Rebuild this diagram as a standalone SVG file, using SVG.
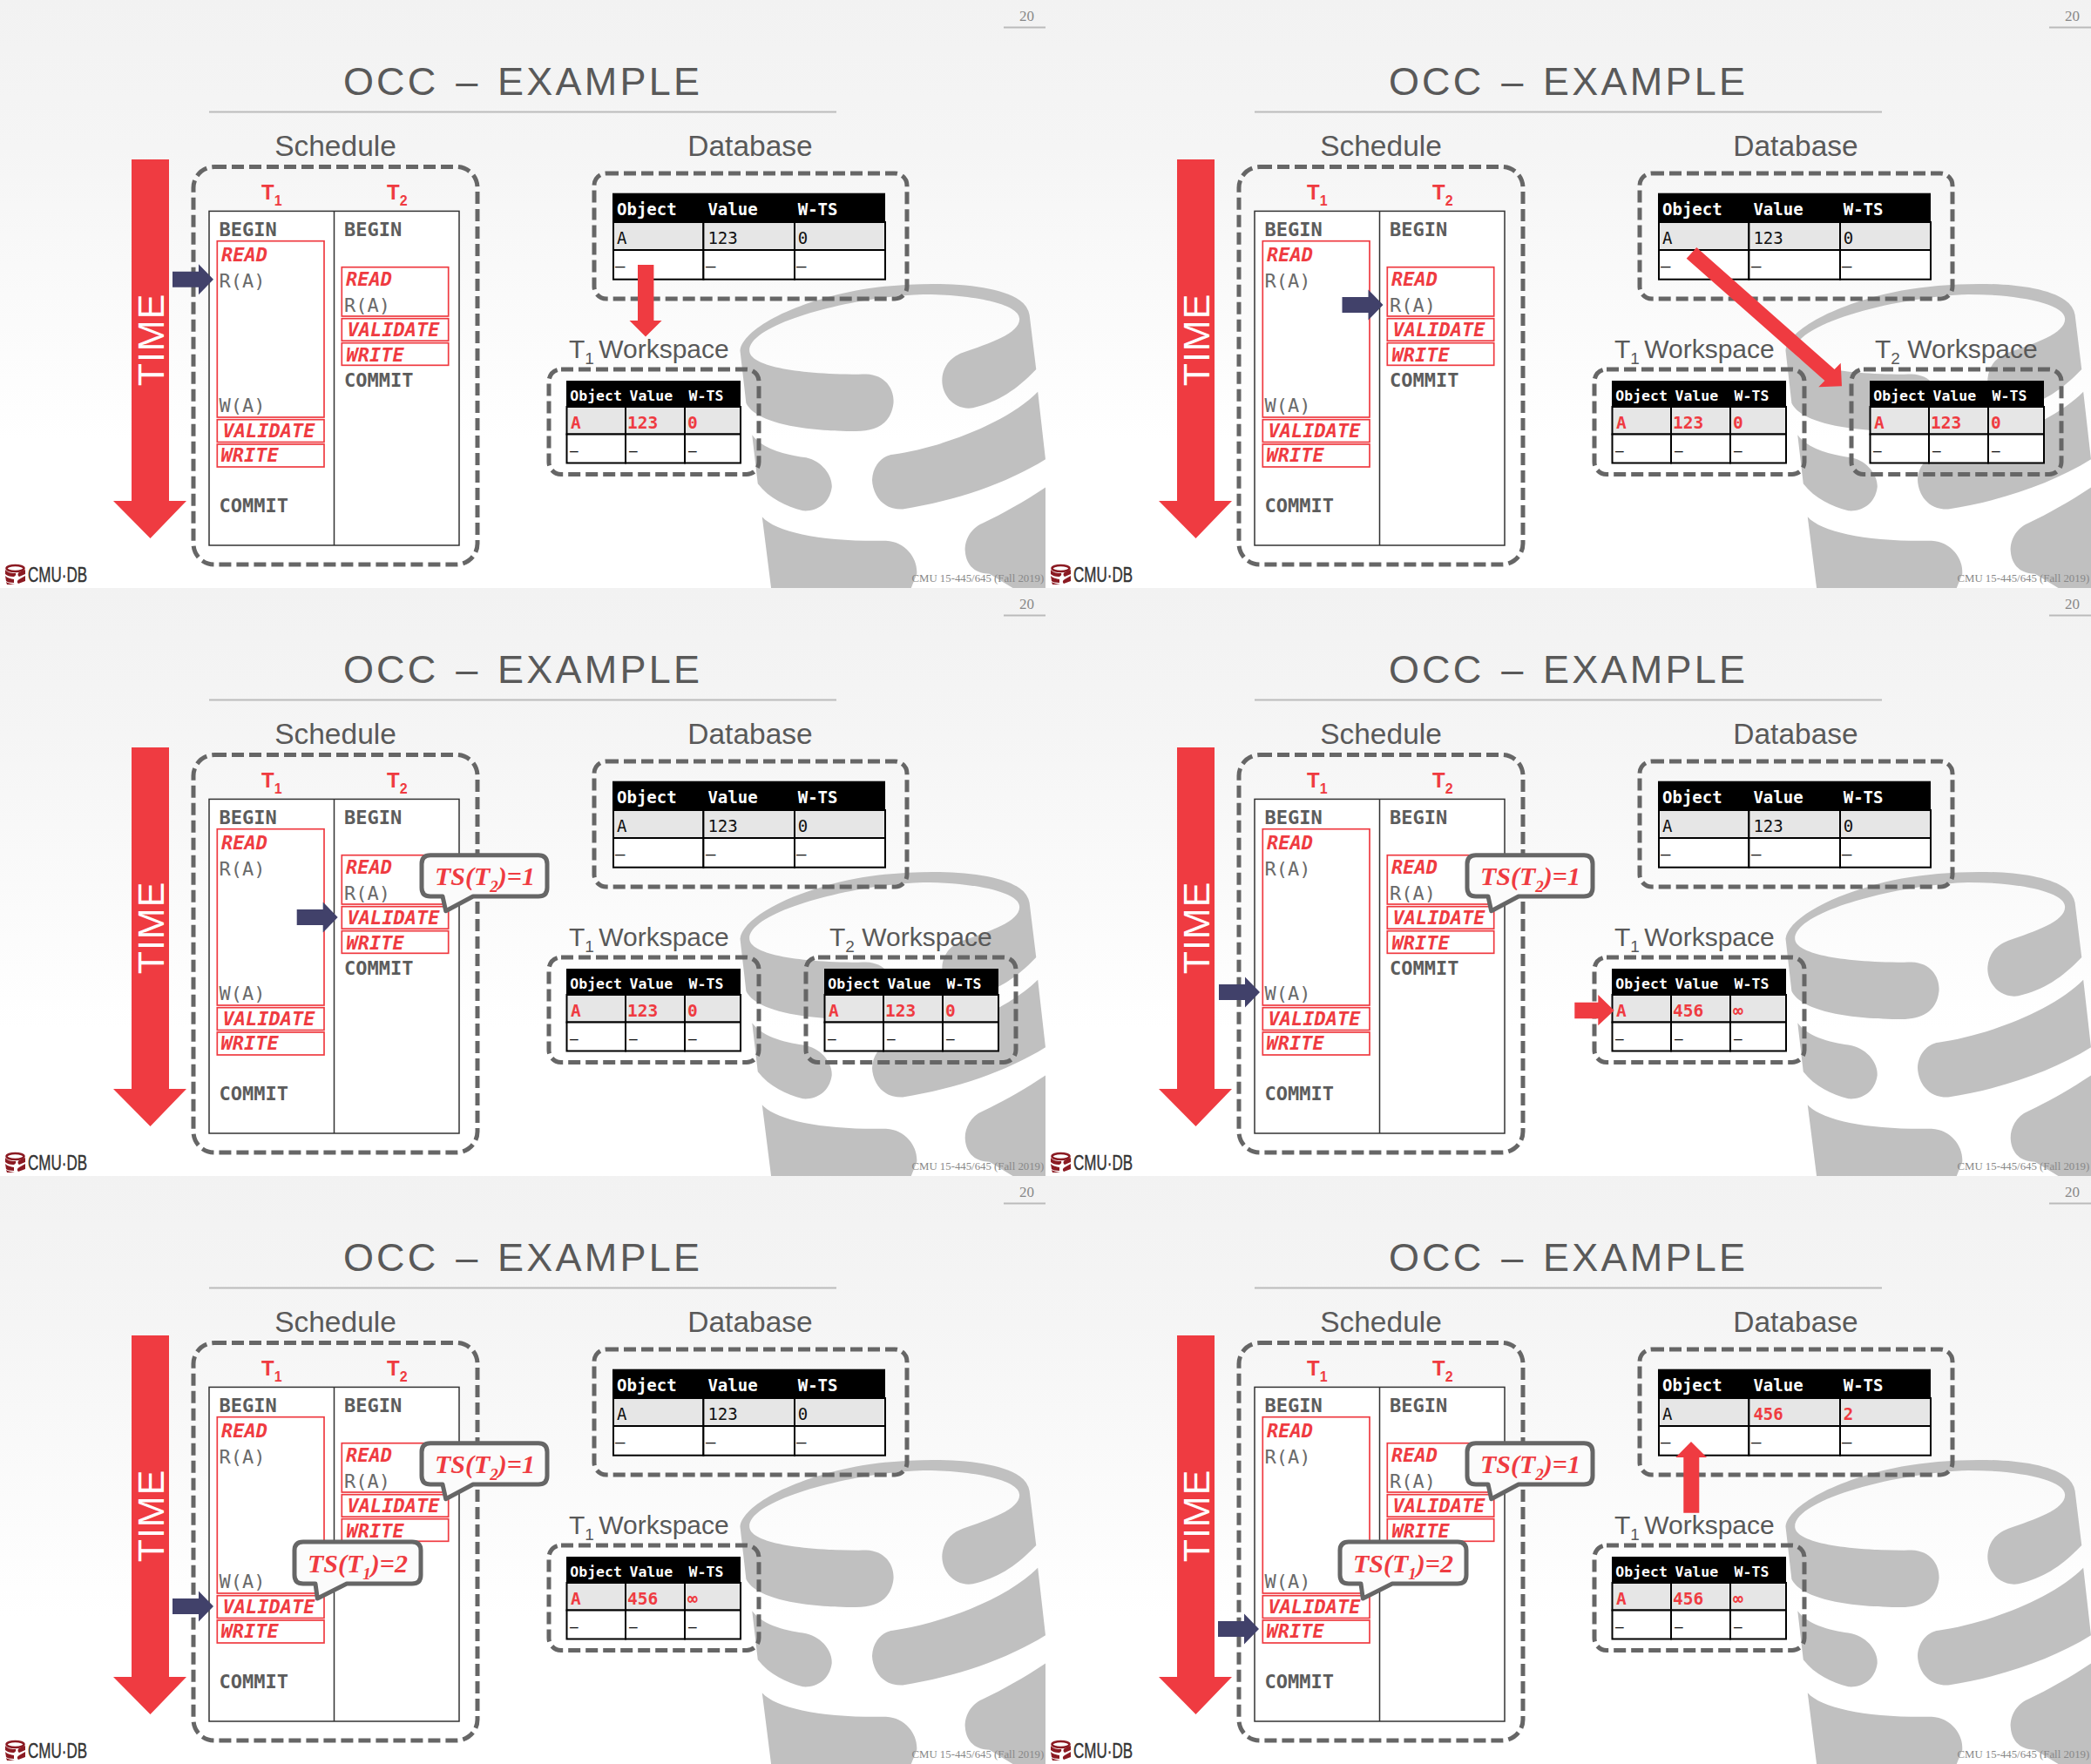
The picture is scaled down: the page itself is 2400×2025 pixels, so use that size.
<svg xmlns="http://www.w3.org/2000/svg" width="2400" height="2025" viewBox="0 0 2400 2025">
<style>
text{font-family:"Liberation Sans",Arial,sans-serif}
.ttl{font-size:45px;letter-spacing:3.2px;word-spacing:4px;fill:#595959;text-anchor:middle}
.hd{font-size:33.5px;fill:#595959;text-anchor:middle}
.ws{font-size:30px;fill:#595959}
.pg,.ft{font-family:"Liberation Serif",serif;fill:#888}
.pg{font-size:17px;text-anchor:middle}
.ft{font-size:12.8px}
.logo{font-size:23px;fill:#333;stroke:#333;stroke-width:.4}
.time{font-size:43px;fill:#fff;text-anchor:middle;letter-spacing:1px}
.tx{font-size:24px;font-weight:bold;fill:#ef3b41}
.m{font-family:"DejaVu Sans Mono",monospace;font-size:22px}
.op{font-weight:bold;fill:#5c5c5c}
.ra{fill:#6a6a6a}
.ph{font-weight:bold;font-style:italic;fill:#ef3b41}
.th,.td,.tr,.wh,.wr,.wd{font-family:"DejaVu Sans Mono",monospace}
.th{font-size:19px;font-weight:bold;fill:#fff}
.td{font-size:19px;fill:#111}
.tr{font-size:19px;font-weight:bold;fill:#ef3b41}
.wh{font-size:16.5px;font-weight:bold;fill:#fff}
.wr{font-size:19.5px;font-weight:bold;fill:#ef3b41}
.wd{font-size:16px;fill:#111}
.ts{font-family:"Liberation Serif",serif;font-size:30px;font-style:italic;font-weight:bold;fill:#ef3b41}
.dash{fill:none;stroke:#666;stroke-width:5;stroke-dasharray:14 6}
.rb{fill:none;stroke:#ef3b41;stroke-width:1.7}
.cell{stroke:#000;stroke-width:2}
.call{fill:#fbfbfb;stroke:#666;stroke-width:5;stroke-linejoin:round}
.red{fill:#ef3b41}
.nav{fill:#41416a}
.rule{stroke:#bbb;stroke-width:2}
</style>
<defs>
<linearGradient id="bg" x1="0" y1="0" x2="0" y2="1"><stop offset="0" stop-color="#f2f2f2"/><stop offset="0.25" stop-color="#f5f5f5"/><stop offset="0.75" stop-color="#fff"/></linearGradient>
<g id="cyl" transform="translate(600,0) scale(0.38265,0.43048)" fill="#c0c0c0">
<path d="M652,935C660,880 800,810 1000,775C1150,750 1400,745 1490,800Q1515,815 1520,840L1540,985C1480,1040 1430,1070 1350,1088C1290,1095 1255,1050 1258,1010C1262,970 1290,950 1320,940C1400,915 1490,890 1490,850C1490,810 1350,785 1200,785C1000,790 680,860 680,935C680,975 820,1000 1030,998C1090,1000 1115,1040 1112,1075C1105,1130 1060,1150 1000,1150C850,1150 700,1130 670,1075Z"/>
<path d="M688,1160C720,1200 800,1215 850,1220C900,1230 930,1270 927,1300C920,1345 880,1365 840,1362C790,1350 740,1330 705,1290Z"/>
<path d="M1110,1212C1250,1195 1450,1130 1545,1045L1568,1225C1450,1290 1300,1335 1140,1358C1080,1360 1050,1320 1048,1280C1050,1240 1080,1215 1110,1212Z"/>
<path d="M718,1378C760,1420 900,1445 1090,1442C1150,1445 1185,1490 1182,1530L1165,1568H745Z"/>
<path d="M1568,1300C1500,1340 1440,1370 1380,1395C1340,1410 1325,1445 1327,1470C1330,1510 1360,1530 1400,1530L1470,1568H1568Z"/>
</g>
<g id="logomark" fill="#8b1a22">
<ellipse cx="17.5" cy="652.5" rx="10" ry="3.5" fill="none" stroke="#8b1a22" stroke-width="2.5"/>
<path d="M6,654C9,658 14,658 18,658C19,660 17,662 15,662C11,662 8,661 6,659ZM29,654V659L22,662C20,661 20,658 22,657ZM6,661C9,664 12,664 16,665V669C11,669 8,668 7,667ZM29,661V667L21,670C19,668 20,666 22,665Z"/>
<path d="M7,668C10,670 14,670 17,671H8Z"/>
</g>
<polygon id="nv" points="-47,-9 -17,-9 -17,-17.5 0,0 -17,17.5 -17,9 -47,9"/>
<g id="dbgrid">
<rect x="703" y="221.7" width="313" height="33.3" fill="#000"/>
<rect class="cell" x="704" y="255" width="103.4" height="32" fill="#e6e6e6"/><rect class="cell" x="807.4" y="255" width="104.6" height="32" fill="#e6e6e6"/><rect class="cell" x="912" y="255" width="104" height="32" fill="#e6e6e6"/>
<rect class="cell" x="704" y="287" width="103.4" height="33.7" fill="#fff"/><rect class="cell" x="807.4" y="287" width="104.6" height="33.7" fill="#fff"/><rect class="cell" x="912" y="287" width="104" height="33.7" fill="#fff"/>
</g>
<g id="wsgrid">
<rect x="650" y="437" width="200" height="30" fill="#000"/>
<rect class="cell" x="650.5" y="467" width="67.5" height="31.5" fill="#e6e6e6"/><rect class="cell" x="718" y="467" width="68" height="31.5" fill="#e6e6e6"/><rect class="cell" x="786" y="467" width="64" height="31.5" fill="#e6e6e6"/>
<rect class="cell" x="650.5" y="498.5" width="67.5" height="33" fill="#fff"/><rect class="cell" x="718" y="498.5" width="68" height="33" fill="#fff"/><rect class="cell" x="786" y="498.5" width="64" height="33" fill="#fff"/>
</g>
<g id="schedbox">
<rect class="dash" x="222" y="191.5" width="326" height="456.5" rx="24"/>
<rect x="240" y="242.4" width="287" height="383.6" fill="#fff" stroke="#333" stroke-width="1.5"/>
<line x1="383.5" y1="242.4" x2="383.5" y2="626" stroke="#333" stroke-width="1.5"/>
<rect class="rb" x="249.3" y="276.7" width="122.7" height="202.3"/><rect class="rb" x="249.3" y="481.7" width="122.7" height="25.8"/><rect class="rb" x="249.3" y="510" width="122.7" height="26"/>
<rect class="rb" x="392.3" y="306.7" width="122.4" height="56.3"/><rect class="rb" x="392.3" y="365.7" width="122.4" height="25.5"/><rect class="rb" x="392.3" y="393.7" width="122.4" height="25.6"/>
</g>
<polygon id="timearrow" class="red" points="151,183 194,183 194,575 214,575 172.500,618 130,575 151,575"/>
</defs>

<g id="backgrounds">
<rect x="0" y="0" width="1200" height="675" fill="url(#bg)"/><rect x="1200" y="0" width="1200" height="675" fill="url(#bg)"/>
<rect x="0" y="675" width="1200" height="675" fill="url(#bg)"/><rect x="1200" y="675" width="1200" height="675" fill="url(#bg)"/>
<rect x="0" y="1350" width="1200" height="675" fill="url(#bg)"/><rect x="1200" y="1350" width="1200" height="675" fill="url(#bg)"/>
</g>

<g id="panel-1">
<use href="#cyl"/>
<g id="p1-frame"><text class="pg" x="1178.500" y="24">20</text><line class="rule" x1="1152" y1="31.500" x2="1200" y2="31.500"/><text class="ttl" x="600" y="108.500">OCC – EXAMPLE</text><line class="rule" x1="240" y1="128.500" x2="960" y2="128.500"/><text class="ft" x="1046.500" y="668">CMU 15-445/645 (Fall 2019)</text><use href="#logomark"/><text class="logo" x="32" y="667.500" textLength="68" lengthAdjust="spacingAndGlyphs">CMU·DB</text></g>
<g id="p1-time"><use href="#timearrow"/><text class="time" transform="translate(187.500,390) rotate(-90)">TIME</text></g>
<g id="p1-schedule"><text class="hd" x="385" y="178.600">Schedule</text><use href="#schedbox"/><text class="tx" x="300" y="229.400">T<tspan font-size="16" dy="7">1</tspan></text><text class="tx" x="444" y="229.400">T<tspan font-size="16" dy="7">2</tspan></text>
<text class="m op" x="251.500" y="271">BEGIN</text><text class="m ph" x="254" y="300">READ</text><text class="m ra" x="251.500" y="330">R(A)</text><text class="m ra" x="251.500" y="473">W(A)</text><text class="m ph" x="255.500" y="501.700">VALIDATE</text><text class="m ph" x="253.500" y="530">WRITE</text><text class="m op" x="251.500" y="587.500">COMMIT</text>
<text class="m op" x="395" y="271">BEGIN</text><text class="m ph" x="397" y="328">READ</text><text class="m ra" x="395" y="358">R(A)</text><text class="m ph" x="398.500" y="386.300">VALIDATE</text><text class="m ph" x="397.500" y="415">WRITE</text><text class="m op" x="395" y="444">COMMIT</text></g>
<g id="p1-database"><text class="hd" x="861" y="178.600">Database</text><rect class="dash" x="682" y="199" width="359" height="144" rx="14"/><use href="#dbgrid"/><text class="th" x="708" y="247">Object</text><text class="th" x="812.400" y="247">Value</text><text class="th" x="915.700" y="247">W-TS</text><text class="td" x="708" y="280">A</text><text class="td" x="812.400" y="280">123</text><text class="td" x="915.700" y="280">0</text><text class="td" x="706" y="312">–</text><text class="td" x="810" y="312">–</text><text class="td" x="914" y="312">–</text></g>
<g id="p1-workspace-t1"><text class="ws" x="653" y="411">T<tspan font-size="19" dy="7">1</tspan><tspan dy="-7" dx="-3"> Workspace</tspan></text><rect class="dash" x="630" y="424" width="241" height="120.500" rx="14"/><use href="#wsgrid"/><text class="wh" x="654.300" y="460">Object</text><text class="wh" x="722.500" y="460">Value</text><text class="wh" x="790.600" y="460">W-TS</text><text class="wr" x="655" y="492">A</text><text class="wr" x="720" y="492">123</text><text class="wr" x="789" y="492">0</text><text class="wd" x="654" y="523">–</text><text class="wd" x="722" y="523">–</text><text class="wd" x="790" y="523">–</text></g>
</g>

<g id="panel-2" transform="translate(1200,0)">
<use href="#cyl"/>
<g id="p2-frame"><text class="pg" x="1178.500" y="24">20</text><line class="rule" x1="1152" y1="31.500" x2="1200" y2="31.500"/><text class="ttl" x="600" y="108.500">OCC – EXAMPLE</text><line class="rule" x1="240" y1="128.500" x2="960" y2="128.500"/><text class="ft" x="1046.500" y="668">CMU 15-445/645 (Fall 2019)</text><use href="#logomark"/><text class="logo" x="32" y="667.500" textLength="68" lengthAdjust="spacingAndGlyphs">CMU·DB</text></g>
<g id="p2-time"><use href="#timearrow"/><text class="time" transform="translate(187.500,390) rotate(-90)">TIME</text></g>
<g id="p2-schedule"><text class="hd" x="385" y="178.600">Schedule</text><use href="#schedbox"/><text class="tx" x="300" y="229.400">T<tspan font-size="16" dy="7">1</tspan></text><text class="tx" x="444" y="229.400">T<tspan font-size="16" dy="7">2</tspan></text>
<text class="m op" x="251.500" y="271">BEGIN</text><text class="m ph" x="254" y="300">READ</text><text class="m ra" x="251.500" y="330">R(A)</text><text class="m ra" x="251.500" y="473">W(A)</text><text class="m ph" x="255.500" y="501.700">VALIDATE</text><text class="m ph" x="253.500" y="530">WRITE</text><text class="m op" x="251.500" y="587.500">COMMIT</text>
<text class="m op" x="395" y="271">BEGIN</text><text class="m ph" x="397" y="328">READ</text><text class="m ra" x="395" y="358">R(A)</text><text class="m ph" x="398.500" y="386.300">VALIDATE</text><text class="m ph" x="397.500" y="415">WRITE</text><text class="m op" x="395" y="444">COMMIT</text></g>
<g id="p2-database"><text class="hd" x="861" y="178.600">Database</text><rect class="dash" x="682" y="199" width="359" height="144" rx="14"/><use href="#dbgrid"/><text class="th" x="708" y="247">Object</text><text class="th" x="812.400" y="247">Value</text><text class="th" x="915.700" y="247">W-TS</text><text class="td" x="708" y="280">A</text><text class="td" x="812.400" y="280">123</text><text class="td" x="915.700" y="280">0</text><text class="td" x="706" y="312">–</text><text class="td" x="810" y="312">–</text><text class="td" x="914" y="312">–</text></g>
<g id="p2-workspace-t1"><text class="ws" x="653" y="411">T<tspan font-size="19" dy="7">1</tspan><tspan dy="-7" dx="-3"> Workspace</tspan></text><rect class="dash" x="630" y="424" width="241" height="120.500" rx="14"/><use href="#wsgrid"/><text class="wh" x="654.300" y="460">Object</text><text class="wh" x="722.500" y="460">Value</text><text class="wh" x="790.600" y="460">W-TS</text><text class="wr" x="655" y="492">A</text><text class="wr" x="720" y="492">123</text><text class="wr" x="789" y="492">0</text><text class="wd" x="654" y="523">–</text><text class="wd" x="722" y="523">–</text><text class="wd" x="790" y="523">–</text></g>
<g id="p2-workspace-t2"><text class="ws" x="952" y="411">T<tspan font-size="19" dy="7">2</tspan><tspan dy="-7"> Workspace</tspan></text><rect class="dash" x="925" y="424" width="241" height="120.500" rx="14"/><use href="#wsgrid" x="296"/><text class="wh" x="950.300" y="460">Object</text><text class="wh" x="1018.500" y="460">Value</text><text class="wh" x="1086.600" y="460">W-TS</text><text class="wr" x="951" y="492">A</text><text class="wr" x="1016" y="492">123</text><text class="wr" x="1085" y="492">0</text><text class="wd" x="950" y="523">–</text><text class="wd" x="1018" y="523">–</text><text class="wd" x="1086" y="523">–</text></g>
</g>

<g id="panel-3" transform="translate(0,675)">
<use href="#cyl"/>
<g id="p3-frame"><text class="pg" x="1178.500" y="24">20</text><line class="rule" x1="1152" y1="31.500" x2="1200" y2="31.500"/><text class="ttl" x="600" y="108.500">OCC – EXAMPLE</text><line class="rule" x1="240" y1="128.500" x2="960" y2="128.500"/><text class="ft" x="1046.500" y="668">CMU 15-445/645 (Fall 2019)</text><use href="#logomark"/><text class="logo" x="32" y="667.500" textLength="68" lengthAdjust="spacingAndGlyphs">CMU·DB</text></g>
<g id="p3-time"><use href="#timearrow"/><text class="time" transform="translate(187.500,390) rotate(-90)">TIME</text></g>
<g id="p3-schedule"><text class="hd" x="385" y="178.600">Schedule</text><use href="#schedbox"/><text class="tx" x="300" y="229.400">T<tspan font-size="16" dy="7">1</tspan></text><text class="tx" x="444" y="229.400">T<tspan font-size="16" dy="7">2</tspan></text>
<text class="m op" x="251.500" y="271">BEGIN</text><text class="m ph" x="254" y="300">READ</text><text class="m ra" x="251.500" y="330">R(A)</text><text class="m ra" x="251.500" y="473">W(A)</text><text class="m ph" x="255.500" y="501.700">VALIDATE</text><text class="m ph" x="253.500" y="530">WRITE</text><text class="m op" x="251.500" y="587.500">COMMIT</text>
<text class="m op" x="395" y="271">BEGIN</text><text class="m ph" x="397" y="328">READ</text><text class="m ra" x="395" y="358">R(A)</text><text class="m ph" x="398.500" y="386.300">VALIDATE</text><text class="m ph" x="397.500" y="415">WRITE</text><text class="m op" x="395" y="444">COMMIT</text></g>
<g id="p3-database"><text class="hd" x="861" y="178.600">Database</text><rect class="dash" x="682" y="199" width="359" height="144" rx="14"/><use href="#dbgrid"/><text class="th" x="708" y="247">Object</text><text class="th" x="812.400" y="247">Value</text><text class="th" x="915.700" y="247">W-TS</text><text class="td" x="708" y="280">A</text><text class="td" x="812.400" y="280">123</text><text class="td" x="915.700" y="280">0</text><text class="td" x="706" y="312">–</text><text class="td" x="810" y="312">–</text><text class="td" x="914" y="312">–</text></g>
<g id="p3-workspace-t1"><text class="ws" x="653" y="411">T<tspan font-size="19" dy="7">1</tspan><tspan dy="-7" dx="-3"> Workspace</tspan></text><rect class="dash" x="630" y="424" width="241" height="120.500" rx="14"/><use href="#wsgrid"/><text class="wh" x="654.300" y="460">Object</text><text class="wh" x="722.500" y="460">Value</text><text class="wh" x="790.600" y="460">W-TS</text><text class="wr" x="655" y="492">A</text><text class="wr" x="720" y="492">123</text><text class="wr" x="789" y="492">0</text><text class="wd" x="654" y="523">–</text><text class="wd" x="722" y="523">–</text><text class="wd" x="790" y="523">–</text></g>
<g id="p3-workspace-t2"><text class="ws" x="952" y="411">T<tspan font-size="19" dy="7">2</tspan><tspan dy="-7"> Workspace</tspan></text><rect class="dash" x="925" y="424" width="241" height="120.500" rx="14"/><use href="#wsgrid" x="296"/><text class="wh" x="950.300" y="460">Object</text><text class="wh" x="1018.500" y="460">Value</text><text class="wh" x="1086.600" y="460">W-TS</text><text class="wr" x="951" y="492">A</text><text class="wr" x="1016" y="492">123</text><text class="wr" x="1085" y="492">0</text><text class="wd" x="950" y="523">–</text><text class="wd" x="1018" y="523">–</text><text class="wd" x="1086" y="523">–</text></g>
</g>

<g id="panel-4" transform="translate(1200,675)">
<use href="#cyl"/>
<g id="p4-frame"><text class="pg" x="1178.500" y="24">20</text><line class="rule" x1="1152" y1="31.500" x2="1200" y2="31.500"/><text class="ttl" x="600" y="108.500">OCC – EXAMPLE</text><line class="rule" x1="240" y1="128.500" x2="960" y2="128.500"/><text class="ft" x="1046.500" y="668">CMU 15-445/645 (Fall 2019)</text><use href="#logomark"/><text class="logo" x="32" y="667.500" textLength="68" lengthAdjust="spacingAndGlyphs">CMU·DB</text></g>
<g id="p4-time"><use href="#timearrow"/><text class="time" transform="translate(187.500,390) rotate(-90)">TIME</text></g>
<g id="p4-schedule"><text class="hd" x="385" y="178.600">Schedule</text><use href="#schedbox"/><text class="tx" x="300" y="229.400">T<tspan font-size="16" dy="7">1</tspan></text><text class="tx" x="444" y="229.400">T<tspan font-size="16" dy="7">2</tspan></text>
<text class="m op" x="251.500" y="271">BEGIN</text><text class="m ph" x="254" y="300">READ</text><text class="m ra" x="251.500" y="330">R(A)</text><text class="m ra" x="251.500" y="473">W(A)</text><text class="m ph" x="255.500" y="501.700">VALIDATE</text><text class="m ph" x="253.500" y="530">WRITE</text><text class="m op" x="251.500" y="587.500">COMMIT</text>
<text class="m op" x="395" y="271">BEGIN</text><text class="m ph" x="397" y="328">READ</text><text class="m ra" x="395" y="358">R(A)</text><text class="m ph" x="398.500" y="386.300">VALIDATE</text><text class="m ph" x="397.500" y="415">WRITE</text><text class="m op" x="395" y="444">COMMIT</text></g>
<g id="p4-database"><text class="hd" x="861" y="178.600">Database</text><rect class="dash" x="682" y="199" width="359" height="144" rx="14"/><use href="#dbgrid"/><text class="th" x="708" y="247">Object</text><text class="th" x="812.400" y="247">Value</text><text class="th" x="915.700" y="247">W-TS</text><text class="td" x="708" y="280">A</text><text class="td" x="812.400" y="280">123</text><text class="td" x="915.700" y="280">0</text><text class="td" x="706" y="312">–</text><text class="td" x="810" y="312">–</text><text class="td" x="914" y="312">–</text></g>
<g id="p4-workspace-t1"><text class="ws" x="653" y="411">T<tspan font-size="19" dy="7">1</tspan><tspan dy="-7" dx="-3"> Workspace</tspan></text><rect class="dash" x="630" y="424" width="241" height="120.500" rx="14"/><use href="#wsgrid"/><text class="wh" x="654.300" y="460">Object</text><text class="wh" x="722.500" y="460">Value</text><text class="wh" x="790.600" y="460">W-TS</text><text class="wr" x="655" y="492">A</text><text class="wr" x="720" y="492">456</text><text class="wr" x="789" y="492">∞</text><text class="wd" x="654" y="523">–</text><text class="wd" x="722" y="523">–</text><text class="wd" x="790" y="523">–</text></g>
</g>

<g id="panel-5" transform="translate(0,1350)">
<use href="#cyl"/>
<g id="p5-frame"><text class="pg" x="1178.500" y="24">20</text><line class="rule" x1="1152" y1="31.500" x2="1200" y2="31.500"/><text class="ttl" x="600" y="108.500">OCC – EXAMPLE</text><line class="rule" x1="240" y1="128.500" x2="960" y2="128.500"/><text class="ft" x="1046.500" y="668">CMU 15-445/645 (Fall 2019)</text><use href="#logomark"/><text class="logo" x="32" y="667.500" textLength="68" lengthAdjust="spacingAndGlyphs">CMU·DB</text></g>
<g id="p5-time"><use href="#timearrow"/><text class="time" transform="translate(187.500,390) rotate(-90)">TIME</text></g>
<g id="p5-schedule"><text class="hd" x="385" y="178.600">Schedule</text><use href="#schedbox"/><text class="tx" x="300" y="229.400">T<tspan font-size="16" dy="7">1</tspan></text><text class="tx" x="444" y="229.400">T<tspan font-size="16" dy="7">2</tspan></text>
<text class="m op" x="251.500" y="271">BEGIN</text><text class="m ph" x="254" y="300">READ</text><text class="m ra" x="251.500" y="330">R(A)</text><text class="m ra" x="251.500" y="473">W(A)</text><text class="m ph" x="255.500" y="501.700">VALIDATE</text><text class="m ph" x="253.500" y="530">WRITE</text><text class="m op" x="251.500" y="587.500">COMMIT</text>
<text class="m op" x="395" y="271">BEGIN</text><text class="m ph" x="397" y="328">READ</text><text class="m ra" x="395" y="358">R(A)</text><text class="m ph" x="398.500" y="386.300">VALIDATE</text><text class="m ph" x="397.500" y="415">WRITE</text><text class="m op" x="395" y="444">COMMIT</text></g>
<g id="p5-database"><text class="hd" x="861" y="178.600">Database</text><rect class="dash" x="682" y="199" width="359" height="144" rx="14"/><use href="#dbgrid"/><text class="th" x="708" y="247">Object</text><text class="th" x="812.400" y="247">Value</text><text class="th" x="915.700" y="247">W-TS</text><text class="td" x="708" y="280">A</text><text class="td" x="812.400" y="280">123</text><text class="td" x="915.700" y="280">0</text><text class="td" x="706" y="312">–</text><text class="td" x="810" y="312">–</text><text class="td" x="914" y="312">–</text></g>
<g id="p5-workspace-t1"><text class="ws" x="653" y="411">T<tspan font-size="19" dy="7">1</tspan><tspan dy="-7" dx="-3"> Workspace</tspan></text><rect class="dash" x="630" y="424" width="241" height="120.500" rx="14"/><use href="#wsgrid"/><text class="wh" x="654.300" y="460">Object</text><text class="wh" x="722.500" y="460">Value</text><text class="wh" x="790.600" y="460">W-TS</text><text class="wr" x="655" y="492">A</text><text class="wr" x="720" y="492">456</text><text class="wr" x="789" y="492">∞</text><text class="wd" x="654" y="523">–</text><text class="wd" x="722" y="523">–</text><text class="wd" x="790" y="523">–</text></g>
</g>

<g id="panel-6" transform="translate(1200,1350)">
<use href="#cyl"/>
<g id="p6-frame"><text class="pg" x="1178.500" y="24">20</text><line class="rule" x1="1152" y1="31.500" x2="1200" y2="31.500"/><text class="ttl" x="600" y="108.500">OCC – EXAMPLE</text><line class="rule" x1="240" y1="128.500" x2="960" y2="128.500"/><text class="ft" x="1046.500" y="668">CMU 15-445/645 (Fall 2019)</text><use href="#logomark"/><text class="logo" x="32" y="667.500" textLength="68" lengthAdjust="spacingAndGlyphs">CMU·DB</text></g>
<g id="p6-time"><use href="#timearrow"/><text class="time" transform="translate(187.500,390) rotate(-90)">TIME</text></g>
<g id="p6-schedule"><text class="hd" x="385" y="178.600">Schedule</text><use href="#schedbox"/><text class="tx" x="300" y="229.400">T<tspan font-size="16" dy="7">1</tspan></text><text class="tx" x="444" y="229.400">T<tspan font-size="16" dy="7">2</tspan></text>
<text class="m op" x="251.500" y="271">BEGIN</text><text class="m ph" x="254" y="300">READ</text><text class="m ra" x="251.500" y="330">R(A)</text><text class="m ra" x="251.500" y="473">W(A)</text><text class="m ph" x="255.500" y="501.700">VALIDATE</text><text class="m ph" x="253.500" y="530">WRITE</text><text class="m op" x="251.500" y="587.500">COMMIT</text>
<text class="m op" x="395" y="271">BEGIN</text><text class="m ph" x="397" y="328">READ</text><text class="m ra" x="395" y="358">R(A)</text><text class="m ph" x="398.500" y="386.300">VALIDATE</text><text class="m ph" x="397.500" y="415">WRITE</text><text class="m op" x="395" y="444">COMMIT</text></g>
<g id="p6-database"><text class="hd" x="861" y="178.600">Database</text><rect class="dash" x="682" y="199" width="359" height="144" rx="14"/><use href="#dbgrid"/><text class="th" x="708" y="247">Object</text><text class="th" x="812.400" y="247">Value</text><text class="th" x="915.700" y="247">W-TS</text><text class="td" x="708" y="280">A</text><text class="tr" x="812.400" y="280">456</text><text class="tr" x="915.700" y="280">2</text><text class="td" x="706" y="312">–</text><text class="td" x="810" y="312">–</text><text class="td" x="914" y="312">–</text></g>
<g id="p6-workspace-t1"><text class="ws" x="653" y="411">T<tspan font-size="19" dy="7">1</tspan><tspan dy="-7" dx="-3"> Workspace</tspan></text><rect class="dash" x="630" y="424" width="241" height="120.500" rx="14"/><use href="#wsgrid"/><text class="wh" x="654.300" y="460">Object</text><text class="wh" x="722.500" y="460">Value</text><text class="wh" x="790.600" y="460">W-TS</text><text class="wr" x="655" y="492">A</text><text class="wr" x="720" y="492">456</text><text class="wr" x="789" y="492">∞</text><text class="wd" x="654" y="523">–</text><text class="wd" x="722" y="523">–</text><text class="wd" x="790" y="523">–</text></g>
</g>

<g id="connectors">
<use href="#nv" class="nav" transform="translate(245,320.700)"/>
<polygon class="red" points="732,304 750.400,304 750.400,368 759.600,368 741,386.600 722.500,368 732,368"/>
<use href="#nv" class="nav" transform="translate(1587.500,350)"/>
<polygon class="red" transform="translate(1200,0)" points="747.300,284 735.700,296.700 894.400,436.900 887.300,444.300 914,443.300 912.700,416.700 905.600,424.100"/>
<use href="#nv" class="nav" transform="translate(387.700,1053)"/>
<use href="#nv" class="nav" transform="translate(1446,1139)"/>
<polygon class="red" transform="translate(1200,675)" points="607.300,475.700 634.300,475.700 634.300,467 652.700,485 634.300,502.300 634.300,494.300 607.300,494.300"/>
<use href="#nv" class="nav" transform="translate(245,1844)"/>
<use href="#nv" class="nav" transform="translate(1445,1870)"/>
<polygon class="red" transform="translate(1200,1350)" points="741,305 759,323 750.300,323 750.300,386.700 732.300,386.700 732.300,323 723.300,323"/>
</g>

<g id="callouts">
<g id="p3-ts2" transform="translate(0,675)"><path class="call" d="M494,306.700H618Q628,306.700 628,316.700V344Q628,354 618,354H543L511.700,370.700L508,354H494Q484,354 484,344V316.700Q484,306.700 494,306.700Z"/><text class="ts" x="499" y="341">TS(T<tspan font-size="19" dy="8">2</tspan><tspan dy="-8">)=1</tspan></text></g>
<g id="p4-ts2" transform="translate(1200,675)"><path class="call" d="M494,306.700H618Q628,306.700 628,316.700V344Q628,354 618,354H543L511.700,370.700L508,354H494Q484,354 484,344V316.700Q484,306.700 494,306.700Z"/><text class="ts" x="499" y="341">TS(T<tspan font-size="19" dy="8">2</tspan><tspan dy="-8">)=1</tspan></text></g>
<g id="p5-ts2" transform="translate(0,1350)"><path class="call" d="M494,306.700H618Q628,306.700 628,316.700V344Q628,354 618,354H543L511.700,370.700L508,354H494Q484,354 484,344V316.700Q484,306.700 494,306.700Z"/><text class="ts" x="499" y="341">TS(T<tspan font-size="19" dy="8">2</tspan><tspan dy="-8">)=1</tspan></text></g>
<g id="p6-ts2" transform="translate(1200,1350)"><path class="call" d="M494,306.700H618Q628,306.700 628,316.700V344Q628,354 618,354H543L511.700,370.700L508,354H494Q484,354 484,344V316.700Q484,306.700 494,306.700Z"/><text class="ts" x="499" y="341">TS(T<tspan font-size="19" dy="8">2</tspan><tspan dy="-8">)=1</tspan></text></g>
<g id="p5-ts1" transform="translate(0,1350)"><path class="call" d="M348,420H473Q483,420 483,430V458Q483,468 473,468H398L364.300,485L362,468H348Q338,468 338,458V430Q338,420 348,420Z"/><text class="ts" x="353" y="455">TS(T<tspan font-size="19" dy="8">1</tspan><tspan dy="-8">)=2</tspan></text></g>
<g id="p6-ts1" transform="translate(1200,1350)"><path class="call" d="M348,420H473Q483,420 483,430V458Q483,468 473,468H398L364.300,485L362,468H348Q338,468 338,458V430Q338,420 348,420Z"/><text class="ts" x="353" y="455">TS(T<tspan font-size="19" dy="8">1</tspan><tspan dy="-8">)=2</tspan></text></g>
</g>
</svg>
